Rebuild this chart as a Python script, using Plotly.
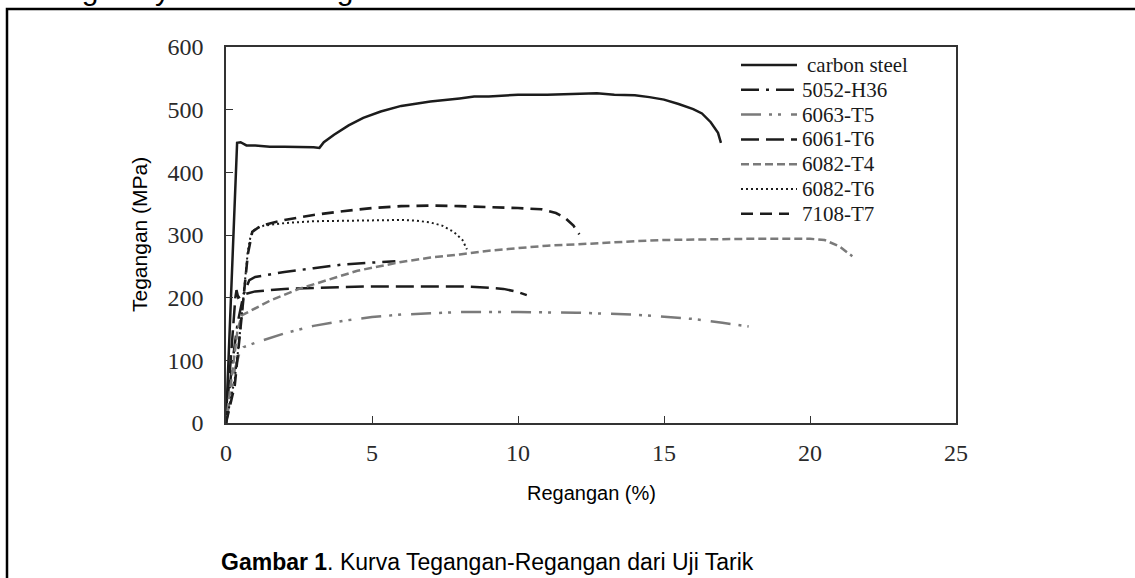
import plotly.graph_objects as go

# ---------------- data ----------------
names = ["carbon steel", "5052-H36", "6063-T5", "6061-T6", "6082-T4", "6082-T6", "7108-T7"]

cs_x = [0, 0.1, 0.2, 0.3, 0.38, 0.5, 0.7, 1.0, 1.5, 2.0, 2.5, 3.0, 3.2, 3.35, 3.7, 4.2, 4.7, 5.3, 6.0, 7.0,
        8.0, 8.5, 9.0, 9.5, 10.0, 11.0, 12.0, 12.7, 13.3, 14.0, 14.5, 15.0, 15.5, 16.0, 16.3, 16.6, 16.85, 16.95]
cs_y = [0, 120, 250, 380, 447, 448, 443, 443, 441, 441, 441, 440, 439, 448, 460, 475, 487, 497, 506, 513,
        518, 521, 521, 523, 524, 524, 525, 526, 524, 523, 520, 516, 509, 501, 494, 480, 463, 447]

h36_x = [0, 0.2, 0.4, 0.6, 0.8, 1.0, 1.5, 2.0, 3.0, 4.0, 5.0, 5.8]
h36_y = [0, 90, 160, 205, 228, 233, 237, 241, 247, 253, 256, 258]

t5_x = [0, 0.15, 0.3, 0.45, 0.6, 1.0, 2.0, 3.0, 4.0, 5.0, 6.0, 7.0, 8.0, 10.0, 12.0, 14.0, 15.0, 16.0, 17.0, 17.9]
t5_y = [0, 45, 85, 110, 121, 128, 143, 155, 163, 169, 173, 175, 177, 177, 176, 173, 170, 166, 160, 154]

t6a_x = [0, 0.15, 0.25, 0.32, 0.36, 0.42, 0.6, 1.0, 2.0, 3.0, 4.0, 5.0, 6.0, 7.0, 8.0, 9.0, 9.5, 10.0, 10.3]
t6a_y = [0, 100, 165, 200, 212, 200, 205, 210, 214, 216, 217, 218, 218, 218, 218, 216, 214, 209, 204]

t4_x = [0, 0.2, 0.4, 0.55, 1.0, 1.5, 2.5, 3.5, 4.5, 6.0, 7.0, 8.0, 9.0, 10.0, 11.0, 12.0, 13.0, 14.0, 15.0,
        16.0, 17.0, 18.0, 19.0, 20.0, 20.5, 21.0, 21.45]
t4_y = [0, 80, 150, 172, 183, 195, 214, 229, 243, 257, 264, 269, 275, 279, 283, 285, 288, 290, 292,
        293, 294, 294, 294, 294, 292, 282, 266]

t6b_x = [0, 0.3, 0.45, 0.55, 0.65, 0.75, 0.85, 1.0, 1.3, 2.0, 3.0, 4.0, 5.0, 6.0, 6.5, 7.0, 7.4, 7.8, 8.1, 8.25]
t6b_y = [0, 70, 130, 180, 230, 275, 300, 310, 315, 319, 322, 323, 324, 324, 323, 320, 315, 305, 292, 277]

t7_x = [0, 0.3, 0.45, 0.6, 0.75, 0.9, 1.2, 2.0, 3.0, 4.0, 5.0, 6.0, 7.0, 8.0, 9.0, 10.0, 10.8, 11.3, 11.6, 11.9, 12.1]
t7_y = [0, 60, 130, 200, 270, 305, 315, 324, 332, 338, 343, 346, 347, 346, 345, 343, 341, 335, 328, 315, 301]

x_ticks = [0, 5, 10, 15, 20, 25]
y_ticks = [0, 100, 200, 300, 400, 500, 600]

series_x = [cs_x, h36_x, t5_x, t6a_x, t4_x, t6b_x, t7_x]
series_y = [cs_y, h36_y, t5_y, t6a_y, t4_y, t6b_y, t7_y]

# ---------------- styles ----------------
BLACK = "#1c1c1c"
GRAY = "#7a7a7a"
colors = [BLACK, BLACK, GRAY, BLACK, GRAY, BLACK, BLACK]
dashes = ["solid", "18px,7px,3px,7px", "20px,8px,3px,6px,3px,10px", "18px,7px",
          "8px,4px", "2px,3px", "12px,7px"]
widths = [2.5, 2.5, 2.5, 2.5, 2.5, 2.0, 2.6]

W, H = 1135, 578
L, R, T, B = 226, 956, 47, 423  # plot area in pixels


def px(xp):
    # page pixel -> paper coordinate (paper = plot area)
    return (xp - L) / (R - L)


def py(yp):
    return (B - yp) / (B - T)


fig = go.Figure()
for i, nm in enumerate(names):
    fig.add_trace(go.Scatter(
        x=series_x[i], y=series_y[i], mode="lines", name=nm, showlegend=False,
        line=dict(color=colors[i], width=widths[i], dash=dashes[i]),
    ))

# manual legend (sample line + label) placed like the reference
leg_y0 = 65
leg_dy = 24.8
shapes = []
annotations = []
for i, nm in enumerate(names):
    yc = leg_y0 + i * leg_dy
    shapes.append(dict(type="line", xref="paper", yref="paper",
                       x0=px(741), x1=px(797 if i != 6 else 789), y0=py(yc), y1=py(yc),
                       line=dict(color=colors[i], width=widths[i], dash=dashes[i])))
    annotations.append(dict(xref="paper", yref="paper", x=px(805 if i == 0 else 800), y=py(yc),
                            xanchor="left", yanchor="middle", showarrow=False, text=nm,
                            font=dict(family="Liberation Serif", size=21, color="#1a1a1a")))

# document page frame
shapes.append(dict(type="rect", xref="paper", yref="paper",
                   x0=px(7), x1=px(W + 20), y0=py(H + 20), y1=py(9),
                   line=dict(color="black", width=2.5), fillcolor="rgba(0,0,0,0)"))

# axis titles
annotations.append(dict(xref="paper", yref="paper", x=px((L + R) / 2), y=py(493),
                        xanchor="center", yanchor="middle", showarrow=False, text="Regangan (%)",
                        font=dict(family="Liberation Sans", size=20, color="black")))
annotations.append(dict(xref="paper", yref="paper", x=px(139), y=py((T + B) / 2),
                        xanchor="center", yanchor="middle", showarrow=False, text="Tegangan (MPa)",
                        textangle=-90,
                        font=dict(family="Liberation Sans", size=21, color="black")))
# caption
annotations.append(dict(xref="paper", yref="paper", x=px(487), y=py(562),
                        xanchor="center", yanchor="middle", showarrow=False,
                        text="<b>Gambar 1</b>. Kurva Tegangan-Regangan dari Uji Tarik",
                        font=dict(family="Liberation Sans", size=23, color="black")))
# cut-off document text above the frame
annotations.append(dict(xref="paper", yref="paper", x=px(-2), y=py(8),
                        xanchor="left", yanchor="bottom", showarrow=False,
                        text="meningkatnya rasio Zn/Mg.",
                        font=dict(family="Liberation Sans", size=30, color="black")))

axis_common = dict(showline=True, linecolor="#333333", linewidth=1.6, mirror=True,
                   ticks="inside", ticklen=7, tickcolor="#333333", tickwidth=1.2,
                   showgrid=False, zeroline=False,
                   tickfont=dict(family="Liberation Serif", size=24, color="#2a2a2a"))

fig.update_layout(
    width=W, height=H, autosize=False,
    margin=dict(l=L, r=W - R, t=T, b=H - B, pad=0),
    paper_bgcolor="white", plot_bgcolor="white",
    xaxis=dict(range=[0, 25], tickvals=x_ticks, ticklabelstandoff=7, **axis_common),
    yaxis=dict(range=[0, 600], tickvals=y_ticks, ticklabelstandoff=16, **axis_common),
    shapes=shapes, annotations=annotations, showlegend=False,
)

fig.write_html(
    "out.html",
    config={"displayModeBar": False},
    post_script="document.body.style.margin='0';document.body.style.overflow='hidden';",
)
